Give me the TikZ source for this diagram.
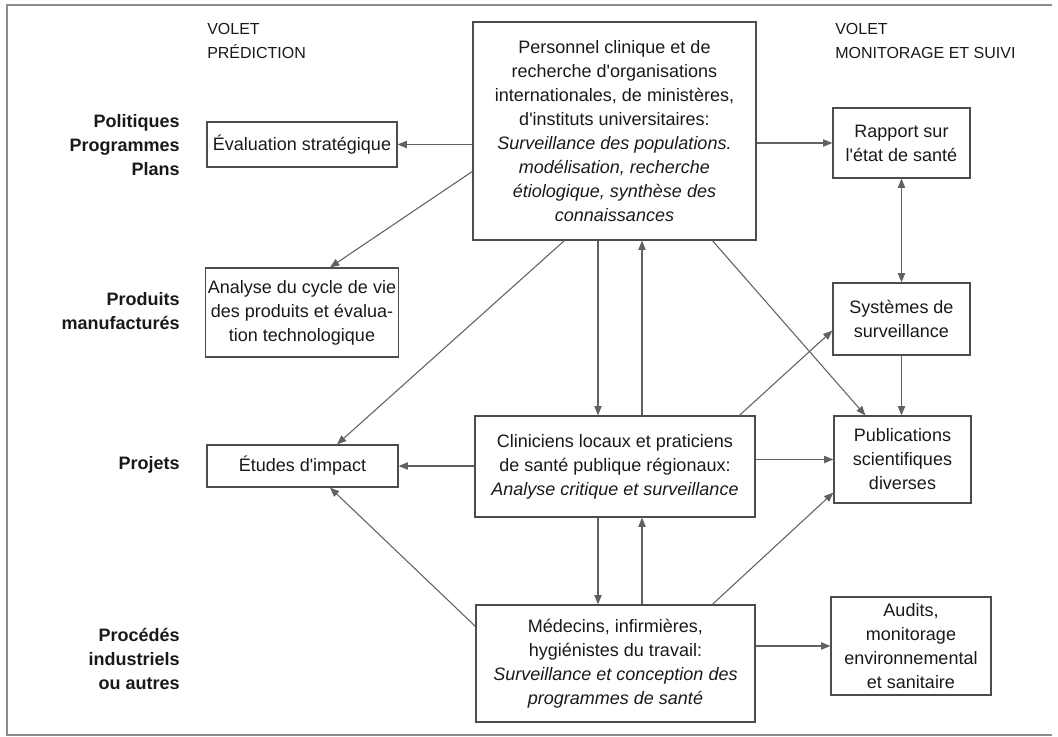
\documentclass[tikz,border=0pt]{standalone}
\usepackage{fontspec}
\setmainfont{Liberation Sans}
\usetikzlibrary{arrows.meta,calc}
\begin{document}
\begin{tikzpicture}[x=0.75pt,y=-0.75pt,
  every node/.style={font=\fontsize{13.5}{18}\selectfont, text=black!90},
  box/.style={draw=black!70, line width=0.9pt, align=center, inner sep=2pt},
  arr/.style={draw=black!62, line width=0.8pt, -{Triangle[length=7pt,width=5.5pt]}},
  darr/.style={draw=black!62, line width=0.8pt, {Triangle[length=7pt,width=5.5pt]}-{Triangle[length=7pt,width=5.5pt]}},
  side/.style={font=\fontsize{13.5}{18}\selectfont\bfseries, align=right, anchor=east, inner sep=0pt},
  volet/.style={font=\fontsize{12}{18}\selectfont, align=left, anchor=west, inner sep=0pt},
  frame/.style={draw=black!45, line width=0.8pt}]
\useasboundingbox (0,0) rectangle (1058,737);
\draw[frame] (1052,5) -- (7,5) -- (7,735) -- (1052,735);

% column headers
\node[volet] (vp) at (207,41) {VOLET\\PRÉDICTION};
\node[volet] (vm) at (835,41) {VOLET\\MONITORAGE ET SUIVI};

% row labels
\node[side] (l1) at (180,145.5) {Politiques\\Programmes\\Plans};
\node[side] (l2) at (180,311) {Produits\\manufacturés};
\node[side] (l3) at (180,465) {Projets};
\node[side] (l4) at (180,659) {Procédés\\industriels\\ou autres};

% boxes
\node[box, minimum width=212.25pt, minimum height=163.5pt] (P) at (614.5,131)
  {Personnel clinique et de\\recherche d\textquotesingle organisations\\internationales, de ministères,\\d\textquotesingle instituts universitaires:\\\itshape Surveillance des populations.\\\itshape modélisation, recherche\\\itshape étiologique, synthèse des\\\itshape connaissances};
\node[box, minimum width=142.5pt, minimum height=33.75pt] (E1) at (302,144.5) {Évaluation stratégique};
\node[box, minimum width=142.5pt, minimum height=66.75pt] (A) at (302,312.5) {Analyse du cycle de vie\\des produits et évalua-\\tion technologique};
\node[box, minimum width=143.25pt, minimum height=31.5pt] (EI) at (302.5,466) {Études d\textquotesingle impact};
\node[box, minimum width=210pt, minimum height=75.75pt] (C) at (615,466.5)
  {Cliniciens locaux et praticiens\\de santé publique régionaux:\\\itshape Analyse critique et surveillance};
\node[box, minimum width=209.25pt, minimum height=87.75pt] (M) at (615.5,663.5)
  {Médecins, infirmières,\\hygiénistes du travail:\\\itshape Surveillance et conception des\\\itshape programmes de santé};
\node[box, minimum width=102.75pt, minimum height=52.5pt] (R) at (901.5,143) {Rapport sur\\l\textquotesingle état de santé};
\node[box, minimum width=102.75pt, minimum height=54pt] (S) at (901.5,319) {Systèmes de\\surveillance};
\node[box, minimum width=102.75pt, minimum height=65.25pt] (Pub) at (902.5,459.5) {Publications\\scientifiques\\diverses};
\node[box, minimum width=120pt, minimum height=73.5pt] (Au) at (911,646) {Audits,\\monitorage\\environnemental\\et sanitaire};

% vertical lanes
\coordinate (xa) at (598,0);
\coordinate (xb) at (642,0);

% connectors
\draw[arr] (P.west |- E1.east) -- (E1.east);
\draw[arr] ($(P.north west)+(0,150)$) -- ($(A.north)+(28,0)$);
\draw[arr] ($(P.south west)+(92,0)$) -- ($(EI.north)+(34.5,0)$);
\draw[arr] (P.south -| xa) -- (C.north -| xa);
\draw[arr] (C.north -| xb) -- (P.south -| xb);
\draw[arr] ($(P.south west)+(240,0)$) -- ($(Pub.north west)+(32,0)$);
\draw[arr] (P.east |- R.west) -- (R.west);
\draw[darr] (R.south) -- (S.north);
\draw[arr] (S.south) -- (S.south |- Pub.north);
\draw[arr] ($(C.north west)+(265,0)$) -- ($(S.south west)+(0,-25)$);
\draw[arr] (C.west |- EI.east) -- (EI.east);
\draw[arr] (C.east |- Pub.west) -- (Pub.west);
\draw[arr] (C.south -| xa) -- (M.north -| xa);
\draw[arr] (M.north -| xb) -- (C.south -| xb);
\draw[arr] ($(M.north west)+(0,22)$) -- ($(EI.south)+(27.5,0)$);
\draw[arr] ($(M.north west)+(237,0)$) -- ($(Pub.south west)+(0,-11)$);
\draw[arr] (M.east |- Au.west) -- (Au.west);
\end{tikzpicture}
\end{document}
